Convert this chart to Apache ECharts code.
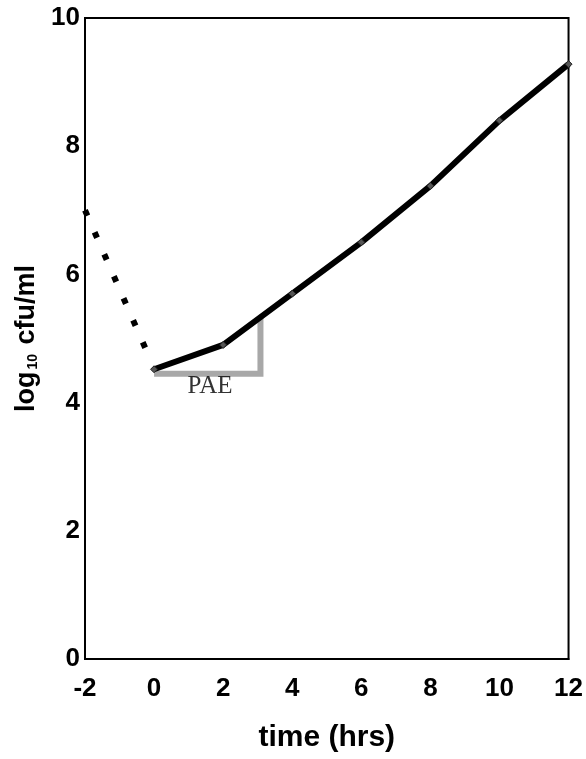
<!DOCTYPE html>
<html>
<head>
<meta charset="utf-8">
<script src="https://cdn.jsdelivr.net/npm/echarts@6/dist/echarts.min.js"></script>
<style>html,body{margin:0;padding:0;background:#fff;}#c{width:586px;height:759px;}</style>
</head>
<body>
<div id="c"></div>
<script>
// Data
var solidX = [0, 2, 4, 6, 8, 10, 12];
var solidY = [4.52, 4.9, 5.7, 6.5, 7.38, 8.4, 9.28];
var dotX = [-2, -0.05];
var dotY = [7.0, 4.6];
var paeX = [0, 3.08, 3.08];
var paeY = [4.45, 4.45, 5.35];
var paeLabelPos = [1.62, 4.25];
var xTicks = [-2, 0, 2, 4, 6, 8, 10, 12];
var yTicks = [0, 2, 4, 6, 8, 10];

function zip(a, b) { return a.map(function (v, i) { return [v, b[i]]; }); }

var chart = echarts.init(document.getElementById('c'));
var font = '"Liberation Sans", Arial, sans-serif';
chart.setOption({
  animation: false,
  backgroundColor: '#fff',
  grid: { left: 85, right: 15, top: 18, bottom: 100, show: true, borderColor: '#000', borderWidth: 2, backgroundColor: 'transparent' },
  xAxis: {
    type: 'value', min: xTicks[0], max: xTicks[xTicks.length - 1], interval: 2,
    name: 'time (hrs)', nameLocation: 'middle', nameGap: 64,
    nameTextStyle: { fontFamily: font, fontWeight: 'bold', fontSize: 30, color: '#000' },
    axisLine: { show: true, onZero: false, lineStyle: { color: '#000', width: 2 } },
    axisTick: { show: false },
    splitLine: { show: false },
    axisLabel: { margin: 17, fontFamily: font, fontWeight: 'bold', fontSize: 26, color: '#000' }
  },
  yAxis: {
    type: 'value', min: yTicks[0], max: yTicks[yTicks.length - 1], interval: 2,
    name: 'log{sub|10} cfu/ml', nameLocation: 'middle', nameGap: 40,
    nameTextStyle: {
      fontFamily: font, fontWeight: 'bold', fontSize: 27, color: '#000',
      rich: { sub: { fontFamily: font, fontWeight: 'bold', fontSize: 14, color: '#000', padding: [12, 2, 0, 2] } }
    },
    axisLine: { show: true, onZero: false, lineStyle: { color: '#000', width: 2 } },
    axisTick: { show: false },
    splitLine: { show: false },
    axisLabel: { margin: 5, fontFamily: font, fontWeight: 'bold', fontSize: 26, color: '#000' }
  },
  series: [
    {
      type: 'line', data: zip(paeX, paeY), showSymbol: false, symbol: 'none',
      lineStyle: { color: '#a8a8a8', width: 6, cap: 'butt', join: 'miter' }, z: 1
    },
    {
      type: 'line', data: zip(dotX, dotY), symbol: 'none',
      lineStyle: { color: '#000', width: 6, type: [6, 18], cap: 'butt' }, z: 2
    },
    {
      type: 'line', data: zip(solidX, solidY), symbol: 'diamond', symbolSize: 7,
      itemStyle: { color: '#555', borderColor: '#222', borderWidth: 1 },
      lineStyle: { color: '#000', width: 6 }, z: 3
    },
    {
      type: 'scatter', data: [paeLabelPos], symbolSize: 0,
      label: { show: true, position: 'inside', formatter: 'PAE', fontFamily: '"Liberation Serif", "Times New Roman", serif', fontSize: 25, color: '#000' },
      z: 4
    }
  ]
});
</script>
</body>
</html>
